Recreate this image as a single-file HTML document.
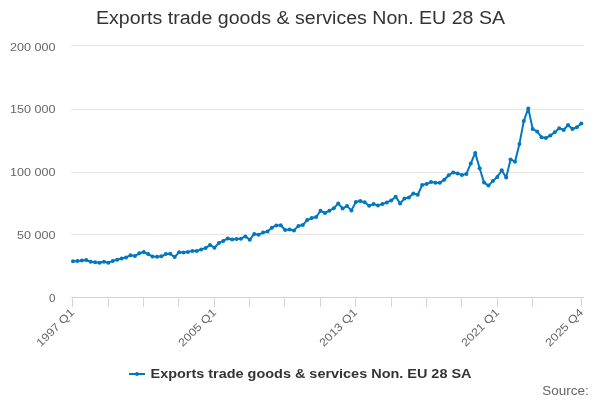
<!DOCTYPE html>
<html><head><meta charset="utf-8"><style>
html,body{margin:0;padding:0;background:#fff;width:600px;height:400px;overflow:hidden}
svg{display:block;will-change:transform;font-family:"Liberation Sans", sans-serif}
</style></head><body>
<svg width="600" height="400" viewBox="0 0 600 400">
<rect width="600" height="400" fill="#ffffff"/>
<text x="300.5" y="23.6" text-anchor="middle" font-size="18" fill="#333333" textLength="409" lengthAdjust="spacingAndGlyphs">Exports trade goods &amp; services Non. EU 28 SA</text>
<g stroke="#e6e6e6" stroke-width="1" fill="none"><path d="M71 45.5 H584"/><path d="M71 109.5 H584"/><path d="M71 172.5 H584"/><path d="M71 234.5 H584"/></g>
<g stroke="#ccd6eb" stroke-width="1" fill="none"><path d="M71 297.5 H584"/><path d="M72.5 297 V307"/><path d="M108.5 297 V307"/><path d="M143.5 297 V307"/><path d="M178.5 297 V307"/><path d="M214.5 297 V307"/><path d="M249.5 297 V307"/><path d="M284.5 297 V307"/><path d="M320.5 297 V307"/><path d="M355.5 297 V307"/><path d="M391.5 297 V307"/><path d="M426.5 297 V307"/><path d="M461.5 297 V307"/><path d="M497.5 297 V307"/><path d="M532.5 297 V307"/><path d="M581.5 297 V307"/></g>
<g font-size="11" fill="#666666"><text x="55.5" y="51" text-anchor="end" textLength="45.4" lengthAdjust="spacingAndGlyphs">200 000</text><text x="55.5" y="113" text-anchor="end" textLength="45.4" lengthAdjust="spacingAndGlyphs">150 000</text><text x="55.5" y="176" text-anchor="end" textLength="45.4" lengthAdjust="spacingAndGlyphs">100 000</text><text x="55.5" y="239" text-anchor="end" textLength="38.4" lengthAdjust="spacingAndGlyphs">50 000</text><text x="55.5" y="302" text-anchor="end" textLength="6.5" lengthAdjust="spacingAndGlyphs">0</text></g>
<g font-size="11" fill="#666666"><text transform="translate(75,313) rotate(-45)" text-anchor="end" textLength="48.5" lengthAdjust="spacingAndGlyphs">1997 Q1</text><text transform="translate(217,313) rotate(-45)" text-anchor="end" textLength="48.5" lengthAdjust="spacingAndGlyphs">2005 Q1</text><text transform="translate(358,313) rotate(-45)" text-anchor="end" textLength="48.5" lengthAdjust="spacingAndGlyphs">2013 Q1</text><text transform="translate(500,313) rotate(-45)" text-anchor="end" textLength="48.5" lengthAdjust="spacingAndGlyphs">2021 Q1</text><text transform="translate(584,313) rotate(-45)" text-anchor="end" textLength="48.5" lengthAdjust="spacingAndGlyphs">2025 Q4</text></g>
<path d="M73.00 261.30 L77.42 261.10 L81.84 260.50 L86.26 260.10 L90.68 261.70 L95.10 262.30 L99.52 262.70 L103.94 261.70 L108.36 262.70 L112.78 260.90 L117.20 259.70 L121.62 258.50 L126.04 257.40 L130.46 255.30 L134.88 256.10 L139.30 253.30 L143.72 252.00 L148.14 254.10 L152.56 256.50 L156.98 256.70 L161.40 256.30 L165.82 254.10 L170.24 253.70 L174.66 257.10 L179.08 252.20 L183.50 252.40 L187.92 252.10 L192.34 250.90 L196.76 251.10 L201.18 249.40 L205.60 248.10 L210.02 244.90 L214.44 247.70 L218.86 242.90 L223.28 240.90 L227.70 238.50 L232.12 239.40 L236.54 239.10 L240.96 238.70 L245.38 236.40 L249.80 239.70 L254.22 233.90 L258.64 234.70 L263.06 232.60 L267.48 231.40 L271.90 227.70 L276.32 225.40 L280.74 225.20 L285.16 230.00 L289.58 229.40 L294.00 230.40 L298.42 225.90 L302.84 224.90 L307.26 220.10 L311.68 218.10 L316.10 217.10 L320.52 210.80 L324.94 213.10 L329.36 210.70 L333.78 208.30 L338.20 203.40 L342.62 208.50 L347.04 206.10 L351.46 210.40 L355.88 202.00 L360.30 201.10 L364.72 202.30 L369.14 205.70 L373.56 204.10 L377.98 205.40 L382.40 204.10 L386.82 202.40 L391.24 200.40 L395.66 196.70 L400.08 203.40 L404.50 198.50 L408.92 197.40 L413.34 193.50 L417.76 194.80 L422.18 185.00 L426.60 183.90 L431.02 182.10 L435.44 182.80 L439.86 182.70 L444.28 179.80 L448.70 175.20 L453.12 172.50 L457.54 173.40 L461.96 175.10 L466.38 173.90 L470.80 163.40 L475.22 152.90 L479.64 168.20 L484.06 182.60 L488.48 185.60 L492.90 180.90 L497.32 176.90 L501.74 170.20 L506.16 177.40 L510.58 159.40 L515.00 161.70 L519.42 143.90 L523.84 120.90 L528.26 108.40 L532.68 128.90 L537.10 131.50 L541.52 137.20 L545.94 137.90 L550.36 135.50 L554.78 132.30 L559.20 128.30 L563.62 130.00 L568.04 125.00 L572.46 129.00 L576.88 127.30 L581.30 123.50" fill="none" stroke="#0077c0" stroke-width="2" stroke-linejoin="round" stroke-linecap="round"/>
<g fill="#0077c0"><circle cx="73.00" cy="261.30" r="2"/><circle cx="77.42" cy="261.10" r="2"/><circle cx="81.84" cy="260.50" r="2"/><circle cx="86.26" cy="260.10" r="2"/><circle cx="90.68" cy="261.70" r="2"/><circle cx="95.10" cy="262.30" r="2"/><circle cx="99.52" cy="262.70" r="2"/><circle cx="103.94" cy="261.70" r="2"/><circle cx="108.36" cy="262.70" r="2"/><circle cx="112.78" cy="260.90" r="2"/><circle cx="117.20" cy="259.70" r="2"/><circle cx="121.62" cy="258.50" r="2"/><circle cx="126.04" cy="257.40" r="2"/><circle cx="130.46" cy="255.30" r="2"/><circle cx="134.88" cy="256.10" r="2"/><circle cx="139.30" cy="253.30" r="2"/><circle cx="143.72" cy="252.00" r="2"/><circle cx="148.14" cy="254.10" r="2"/><circle cx="152.56" cy="256.50" r="2"/><circle cx="156.98" cy="256.70" r="2"/><circle cx="161.40" cy="256.30" r="2"/><circle cx="165.82" cy="254.10" r="2"/><circle cx="170.24" cy="253.70" r="2"/><circle cx="174.66" cy="257.10" r="2"/><circle cx="179.08" cy="252.20" r="2"/><circle cx="183.50" cy="252.40" r="2"/><circle cx="187.92" cy="252.10" r="2"/><circle cx="192.34" cy="250.90" r="2"/><circle cx="196.76" cy="251.10" r="2"/><circle cx="201.18" cy="249.40" r="2"/><circle cx="205.60" cy="248.10" r="2"/><circle cx="210.02" cy="244.90" r="2"/><circle cx="214.44" cy="247.70" r="2"/><circle cx="218.86" cy="242.90" r="2"/><circle cx="223.28" cy="240.90" r="2"/><circle cx="227.70" cy="238.50" r="2"/><circle cx="232.12" cy="239.40" r="2"/><circle cx="236.54" cy="239.10" r="2"/><circle cx="240.96" cy="238.70" r="2"/><circle cx="245.38" cy="236.40" r="2"/><circle cx="249.80" cy="239.70" r="2"/><circle cx="254.22" cy="233.90" r="2"/><circle cx="258.64" cy="234.70" r="2"/><circle cx="263.06" cy="232.60" r="2"/><circle cx="267.48" cy="231.40" r="2"/><circle cx="271.90" cy="227.70" r="2"/><circle cx="276.32" cy="225.40" r="2"/><circle cx="280.74" cy="225.20" r="2"/><circle cx="285.16" cy="230.00" r="2"/><circle cx="289.58" cy="229.40" r="2"/><circle cx="294.00" cy="230.40" r="2"/><circle cx="298.42" cy="225.90" r="2"/><circle cx="302.84" cy="224.90" r="2"/><circle cx="307.26" cy="220.10" r="2"/><circle cx="311.68" cy="218.10" r="2"/><circle cx="316.10" cy="217.10" r="2"/><circle cx="320.52" cy="210.80" r="2"/><circle cx="324.94" cy="213.10" r="2"/><circle cx="329.36" cy="210.70" r="2"/><circle cx="333.78" cy="208.30" r="2"/><circle cx="338.20" cy="203.40" r="2"/><circle cx="342.62" cy="208.50" r="2"/><circle cx="347.04" cy="206.10" r="2"/><circle cx="351.46" cy="210.40" r="2"/><circle cx="355.88" cy="202.00" r="2"/><circle cx="360.30" cy="201.10" r="2"/><circle cx="364.72" cy="202.30" r="2"/><circle cx="369.14" cy="205.70" r="2"/><circle cx="373.56" cy="204.10" r="2"/><circle cx="377.98" cy="205.40" r="2"/><circle cx="382.40" cy="204.10" r="2"/><circle cx="386.82" cy="202.40" r="2"/><circle cx="391.24" cy="200.40" r="2"/><circle cx="395.66" cy="196.70" r="2"/><circle cx="400.08" cy="203.40" r="2"/><circle cx="404.50" cy="198.50" r="2"/><circle cx="408.92" cy="197.40" r="2"/><circle cx="413.34" cy="193.50" r="2"/><circle cx="417.76" cy="194.80" r="2"/><circle cx="422.18" cy="185.00" r="2"/><circle cx="426.60" cy="183.90" r="2"/><circle cx="431.02" cy="182.10" r="2"/><circle cx="435.44" cy="182.80" r="2"/><circle cx="439.86" cy="182.70" r="2"/><circle cx="444.28" cy="179.80" r="2"/><circle cx="448.70" cy="175.20" r="2"/><circle cx="453.12" cy="172.50" r="2"/><circle cx="457.54" cy="173.40" r="2"/><circle cx="461.96" cy="175.10" r="2"/><circle cx="466.38" cy="173.90" r="2"/><circle cx="470.80" cy="163.40" r="2"/><circle cx="475.22" cy="152.90" r="2"/><circle cx="479.64" cy="168.20" r="2"/><circle cx="484.06" cy="182.60" r="2"/><circle cx="488.48" cy="185.60" r="2"/><circle cx="492.90" cy="180.90" r="2"/><circle cx="497.32" cy="176.90" r="2"/><circle cx="501.74" cy="170.20" r="2"/><circle cx="506.16" cy="177.40" r="2"/><circle cx="510.58" cy="159.40" r="2"/><circle cx="515.00" cy="161.70" r="2"/><circle cx="519.42" cy="143.90" r="2"/><circle cx="523.84" cy="120.90" r="2"/><circle cx="528.26" cy="108.40" r="2"/><circle cx="532.68" cy="128.90" r="2"/><circle cx="537.10" cy="131.50" r="2"/><circle cx="541.52" cy="137.20" r="2"/><circle cx="545.94" cy="137.90" r="2"/><circle cx="550.36" cy="135.50" r="2"/><circle cx="554.78" cy="132.30" r="2"/><circle cx="559.20" cy="128.30" r="2"/><circle cx="563.62" cy="130.00" r="2"/><circle cx="568.04" cy="125.00" r="2"/><circle cx="572.46" cy="129.00" r="2"/><circle cx="576.88" cy="127.30" r="2"/><circle cx="581.30" cy="123.50" r="2"/></g>
<path d="M129 374 H145" stroke="#0077c0" stroke-width="2"/>
<circle cx="137" cy="374" r="2" fill="#0077c0"/>
<text x="150.5" y="377.8" font-size="12" font-weight="bold" fill="#333333" textLength="321" lengthAdjust="spacingAndGlyphs">Exports trade goods &amp; services Non. EU 28 SA</text>
<text x="588.8" y="394.5" text-anchor="end" font-size="12" fill="#666666" textLength="46.5" lengthAdjust="spacingAndGlyphs">Source:</text>
</svg>
</body></html>
